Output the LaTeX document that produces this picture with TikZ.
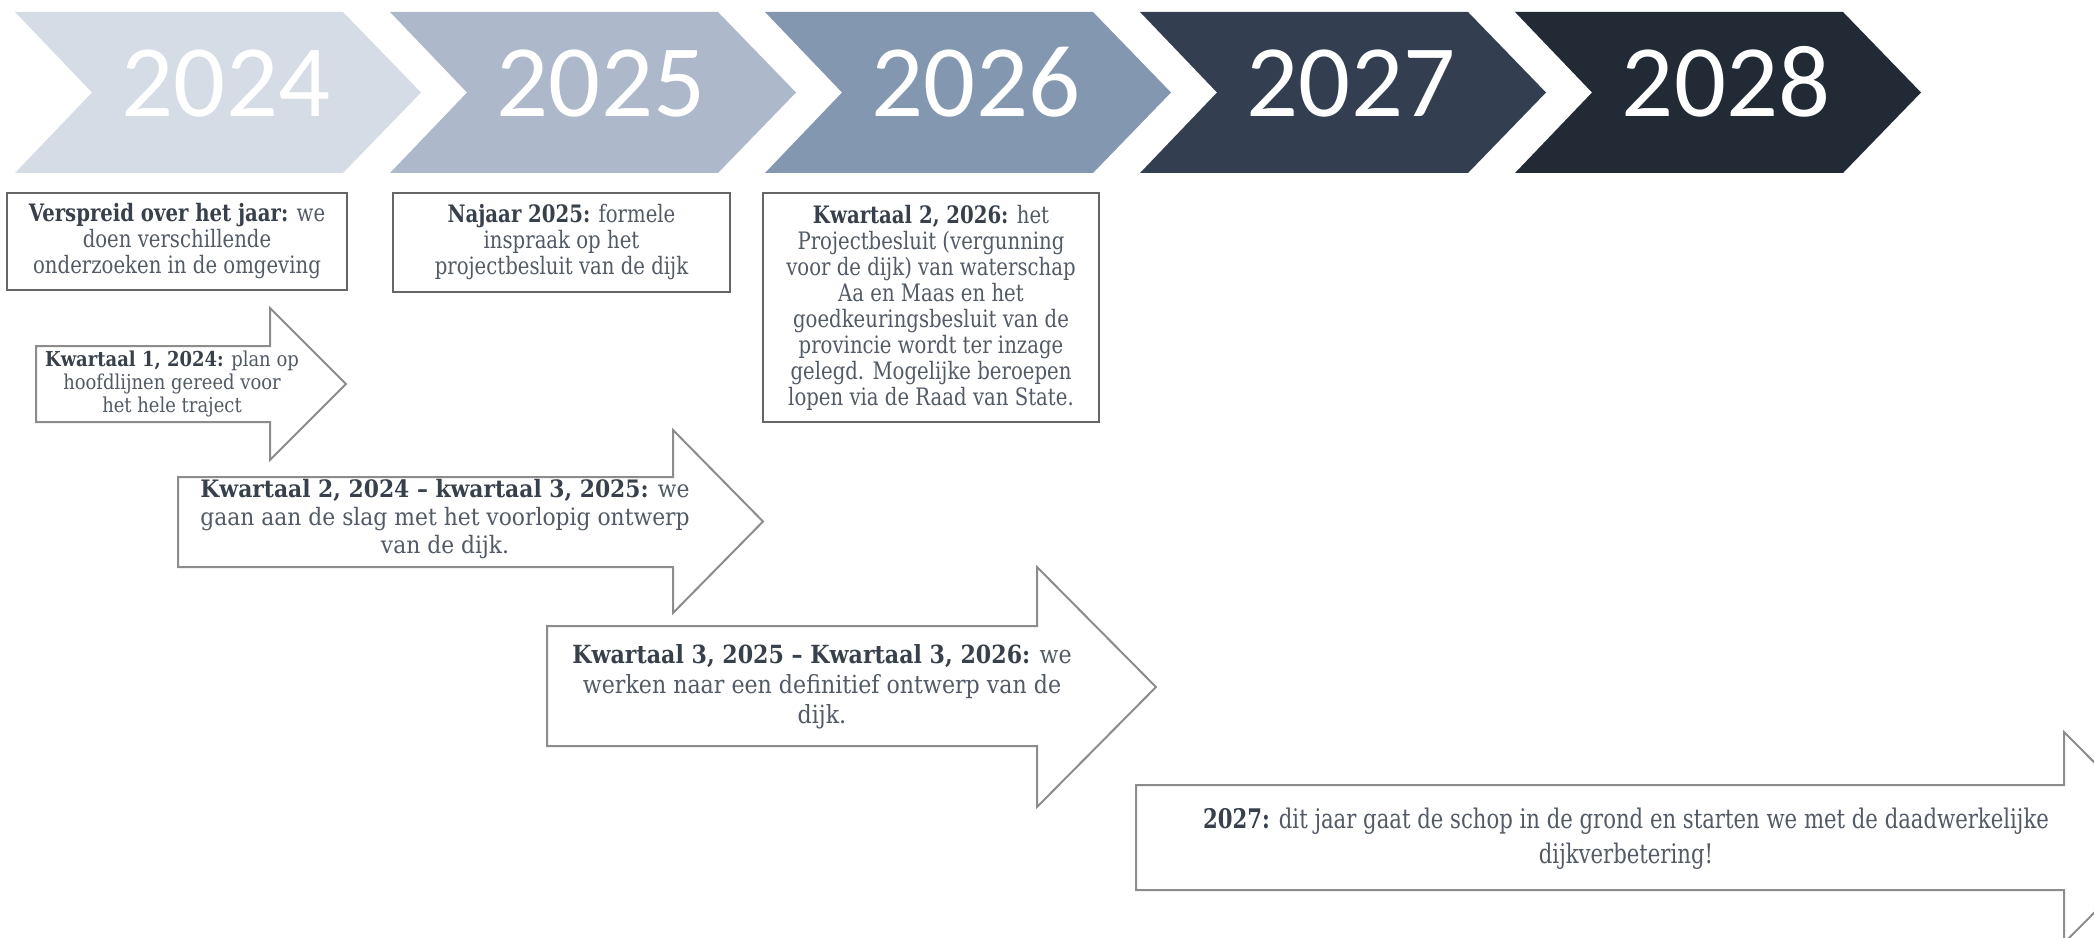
\documentclass[tikz,border=0pt]{standalone}
\usepackage{fontspec}
\setmainfont{DejaVu Serif}
\newfontfamily\slabBox[FakeStretch=0.82]{DejaVu Serif}
\newfontfamily\slabSmall[FakeStretch=0.875]{DejaVu Serif}
\newfontfamily\slabArrB[FakeStretch=0.91]{DejaVu Serif}
\newfontfamily\slabArrC[FakeStretch=0.885]{DejaVu Serif}
\newfontfamily\slabArrD[FakeStretch=0.785]{DejaVu Serif}
\newfontfamily\yearfont{Carlito}
\definecolor{cA}{HTML}{D6DCE5}
\definecolor{cB}{HTML}{ADB9CA}
\definecolor{cC}{HTML}{8497B0}
\definecolor{cD}{HTML}{333F50}
\definecolor{cE}{HTML}{222A35}
\definecolor{txtc}{HTML}{525A66}
\definecolor{boldc}{HTML}{38404C}
\definecolor{boxc}{HTML}{666666}
\definecolor{arrc}{HTML}{8C8C8C}
\newcommand\bd[1]{{\bfseries\color{boldc}#1}}
\begin{document}
\begin{tikzpicture}[x=0.75pt,y=-0.75pt,
  yr/.style={font=\yearfont\fontsize{77pt}{80pt}\selectfont, text=white, anchor=base, inner sep=0pt},
  boxline/.style={draw=boxc, line width=1.5pt},
  arrline/.style={draw=arrc, line width=1.5pt, line join=miter, fill=white},
  txt/.style={text=txtc, align=center, inner sep=0pt},
  boxtxt/.style={txt, font=\slabBox\fontsize{18pt}{19.5pt}\selectfont},
  smalltxt/.style={txt, font=\slabSmall\fontsize{15.4pt}{16.9pt}\selectfont},
  arrBtxt/.style={txt, font=\slabArrB\fontsize{18pt}{21pt}\selectfont},
  arrCtxt/.style={txt, font=\slabArrC\fontsize{18.75pt}{22.5pt}\selectfont},
  arrDtxt/.style={txt, font=\slabArrD\fontsize{20.25pt}{26.25pt}\selectfont}]
\useasboundingbox (0,0) rectangle (2094,938);
\begin{scope}
\clip (0,0) rectangle (2094,938);
% chevrons
\foreach \L/\c/\yy in {15/cA/2024, 390/cB/2025, 765/cC/2026, 1140/cD/2027, 1515/cE/2028}{
  \fill[\c] (\L,12) -- (\L+328,12) -- (\L+406,92.5) -- (\L+328,173) -- (\L,173) -- (\L+77,92.5) -- cycle;
  \node[yr] (y\yy) at (\L+211,117) {\yy};
}
% boxes
\draw[boxline] (7,193) rectangle (347,290);
\draw[boxline] (393,193) rectangle (730,292);
\draw[boxline] (763,193) rectangle (1099,422);
\node[boxtxt] (b1) at (177,241.5) {\bd{Verspreid over het jaar:} we\\doen verschillende\\onderzoeken in de omgeving};
\node[boxtxt] (b2) at (561.5,242.5) {\bd{Najaar 2025:} formele\\inspraak op het\\projectbesluit van de dijk};
\node[boxtxt] (b3) at (931,307.5) {\bd{Kwartaal 2, 2026:} het\\Projectbesluit (vergunning\\voor de dijk) van waterschap\\Aa en Maas en het\\goedkeuringsbesluit van de\\provincie wordt ter inzage\\gelegd. Mogelijke beroepen\\lopen via de Raad van State.};
% arrows
\draw[arrline] (36,346) -- (270,346) -- (270,308) -- (346,384) -- (270,460) -- (270,422) -- (36,422) -- cycle;
\draw[arrline] (178,477) -- (673,477) -- (673,430) -- (763,521.5) -- (673,613) -- (673,567) -- (178,567) -- cycle;
\draw[arrline] (547,626) -- (1037,626) -- (1037,567) -- (1156,687) -- (1037,807) -- (1037,746) -- (547,746) -- cycle;
\draw[arrline] (1136,785) -- (2064,785) -- (2064,732) -- (2169,837.5) -- (2064,943) -- (2064,890) -- (1136,890) -- cycle;
\node[smalltxt] (a1) at (172,384) {\bd{Kwartaal 1, 2024:} plan op\\hoofdlijnen gereed voor\\het hele traject};
\node[arrBtxt] (a2) at (445,519) {\bd{Kwartaal 2, 2024 – kwartaal 3, 2025:} we\\gaan aan de slag met het voorlopig ontwerp\\van de dijk.};
\node[arrCtxt] (a3) at (822,687) {\bd{Kwartaal 3, 2025 – Kwartaal 3, 2026:} we\\werken naar een definitief ontwerp van de\\dijk.};
\node[arrDtxt] (a4) at (1626,839) {\bd{2027:} dit jaar gaat de schop in de grond en starten we met de daadwerkelijke\\dijkverbetering!};
\end{scope}
\end{tikzpicture}
\end{document}
